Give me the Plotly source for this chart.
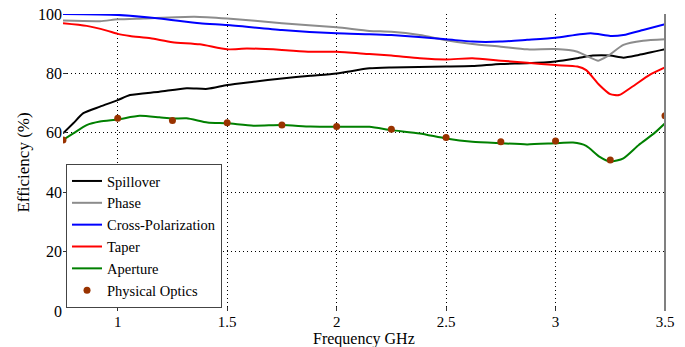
import plotly.graph_objects as go

# ---- data ----
f_spill = [0.75, 0.797, 0.843, 0.919, 1.0, 1.056, 1.19, 1.315, 1.41, 1.5, 1.62, 1.75, 1.88, 2.0, 2.15,
           2.25, 2.5, 2.62, 2.75, 2.87, 3.0, 3.1, 3.17, 3.25, 3.31, 3.38, 3.5]
spillover = [59.8, 63.2, 66.6, 68.8, 71.0, 72.7, 73.8, 75.0, 74.8, 76.1, 77.2, 78.3, 79.2, 80.0, 81.7,
             82.0, 82.3, 82.5, 83.2, 83.4, 84.0, 85.1, 86.0, 86.0, 85.3, 86.2, 88.1]

f_phase = [0.75, 0.919, 1.0, 1.12, 1.35, 1.5, 1.75, 2.0, 2.15, 2.25, 2.38, 2.5, 2.62, 2.75, 2.87, 3.0,
           3.1, 3.15, 3.195, 3.24, 3.31, 3.4, 3.5]
phase = [97.8, 97.6, 98.2, 98.5, 99.1, 98.5, 96.9, 95.5, 94.3, 94.0, 92.9, 91.2, 89.9, 89.0, 88.1, 88.2,
         87.3, 85.6, 84.3, 85.9, 89.6, 91.0, 91.5]

f_xpol = [0.75, 1.0, 1.19, 1.375, 1.5, 1.75, 2.0, 2.15, 2.25, 2.5, 2.62, 2.75, 2.87, 3.0, 3.16, 3.25,
          3.31, 3.4, 3.5]
xpol = [100.0, 99.7, 98.5, 96.9, 96.3, 94.6, 93.5, 93.2, 92.9, 91.5, 90.7, 90.7, 91.3, 92.0, 93.5, 92.6,
        92.9, 94.6, 96.6]

f_taper = [0.75, 0.858, 0.95, 1.0, 1.056, 1.15, 1.25, 1.375, 1.5, 1.59, 1.75, 1.88, 2.0, 2.15, 2.25, 2.38,
           2.5, 2.62, 2.75, 2.87, 3.0, 3.1, 3.14, 3.2, 3.25, 3.29, 3.35, 3.43, 3.5]
taper = [96.9, 96.0, 94.4, 93.3, 92.6, 91.8, 90.5, 89.8, 88.1, 88.4, 87.9, 87.3, 87.3, 86.5, 86.0, 85.1,
         84.7, 85.1, 84.3, 83.6, 82.8, 82.3, 81.1, 76.1, 73.0, 72.7, 75.5, 79.5, 82.0]

f_aper = [0.75, 0.797, 0.858, 0.919, 1.0, 1.1, 1.19, 1.25, 1.315, 1.41, 1.5, 1.62, 1.75, 1.88, 2.0, 2.15,
          2.25, 2.38, 2.5, 2.62, 2.75, 2.87, 3.0, 3.08, 3.14, 3.2, 3.25, 3.31, 3.38, 3.45, 3.5]
aperture = [57.6, 59.8, 62.6, 63.8, 64.5, 65.7, 65.2, 64.8, 64.9, 63.5, 63.2, 62.4, 62.6, 62.1, 62.0, 62.0,
            60.9, 59.8, 58.1, 57.0, 56.5, 56.1, 56.5, 56.7, 55.6, 52.0, 50.3, 51.4, 55.9, 59.8, 63.2]

f_po = [0.75, 1.0, 1.25, 1.5, 1.75, 2.0, 2.25, 2.5, 2.75, 3.0, 3.25, 3.5]
po = [57.6, 64.9, 64.1, 63.4, 62.6, 62.1, 61.2, 58.4, 57.0, 57.2, 50.8, 65.7]

x_ticks = [1, 1.5, 2, 2.5, 3, 3.5]
x_ticklabels = ["1", "1.5", "2", "2.5", "3", "3.5"]
y_ticks = [0, 20, 40, 60, 80, 100]

FONT = "Liberation Serif"

fig = go.Figure()
lw = 2
fig.add_trace(go.Scatter(x=f_spill, y=spillover, mode="lines", name="Spillover",
                         line=dict(color="#000000", width=lw, shape="spline", smoothing=0.6)))
fig.add_trace(go.Scatter(x=f_phase, y=phase, mode="lines", name="Phase",
                         line=dict(color="#8c8c8c", width=lw, shape="spline", smoothing=0.6)))
fig.add_trace(go.Scatter(x=f_xpol, y=xpol, mode="lines", name="Cross-Polarization",
                         line=dict(color="#0000ff", width=lw, shape="spline", smoothing=0.6)))
fig.add_trace(go.Scatter(x=f_taper, y=taper, mode="lines", name="Taper",
                         line=dict(color="#ff0000", width=lw, shape="spline", smoothing=0.6)))
fig.add_trace(go.Scatter(x=f_aper, y=aperture, mode="lines", name="Aperture",
                         line=dict(color="#008000", width=lw, shape="spline", smoothing=0.6)))
fig.add_trace(go.Scatter(x=f_po, y=po, mode="markers", name="Physical Optics",
                         marker=dict(color="#993300", size=7)))

fig.update_layout(
    width=685, height=347,
    margin=dict(l=63, r=20, t=14, b=36, autoexpand=False),
    paper_bgcolor="white", plot_bgcolor="white",
    font=dict(family=FONT, size=16, color="#000000"),
    showlegend=True,
    legend=dict(x=0.005, y=0.01, xanchor="left", yanchor="bottom",
                bgcolor="white", bordercolor="#444444", borderwidth=1,
                font=dict(family=FONT, size=14.5, color="#000000"),
                itemwidth=30, tracegroupgap=0),
    xaxis=dict(range=[0.75, 3.5], tickvals=x_ticks, ticktext=x_ticklabels,
               showgrid=True, gridcolor="#000000", griddash="1px,3px", gridwidth=1,
               ticks="inside", ticklen=4, tickcolor="#333333",
               showline=False, zeroline=False, ticklabelstandoff=0, automargin=False,
               tickfont=dict(family=FONT, size=15)),
    yaxis=dict(range=[0, 100], tickvals=y_ticks,
               showgrid=True, gridcolor="#000000", griddash="1px,3px", gridwidth=1,
               ticks="inside", ticklen=4, tickcolor="#333333",
               showline=False, zeroline=False, automargin=False,
               tickfont=dict(family=FONT, size=16),
               title=dict(text="Efficiency (%)", standoff=4, font=dict(family=FONT, size=17))),
)
# x-axis title placed below the tick labels
fig.add_annotation(text="Frequency GHz", xref="paper", yref="paper", x=0.5, y=-0.128,
                   xanchor="center", yanchor="bottom", showarrow=False, borderpad=0,
                   font=dict(family=FONT, size=16, color="#000000"))
# right frame edge
fig.add_shape(type="line", xref="paper", yref="paper", x0=1, x1=1, y0=0, y1=1,
              line=dict(color="#808080", width=2))

fig.write_html("out.html")
